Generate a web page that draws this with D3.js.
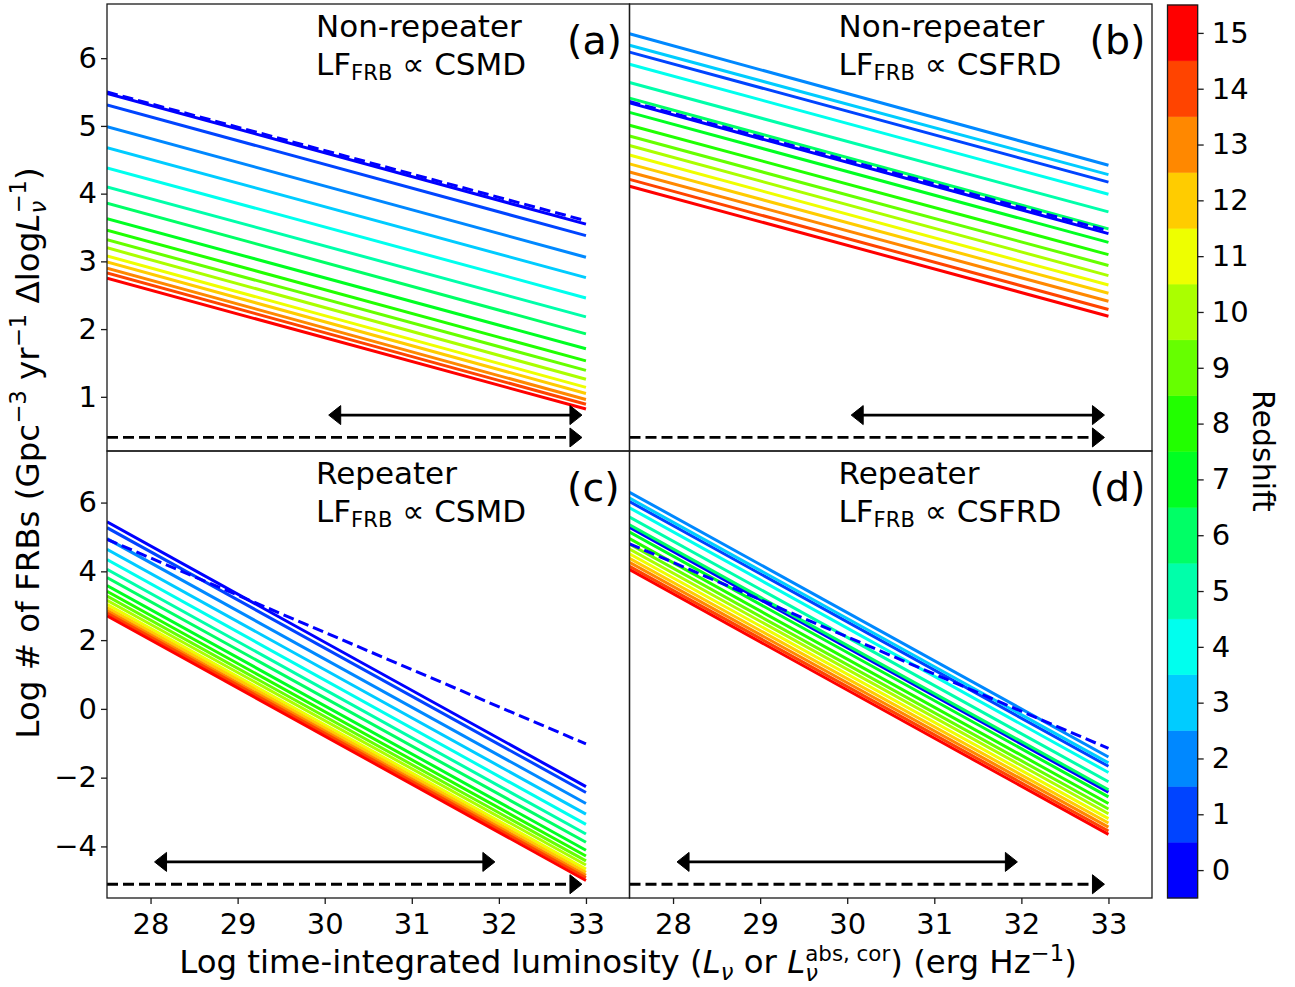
<!DOCTYPE html>
<html><head><meta charset="utf-8">
<script src="https://cdn.jsdelivr.net/npm/d3@7"></script>
<style>
html,body{margin:0;padding:0;background:#fff;}
svg{display:block;font-family:"DejaVu Sans",sans-serif;}
</style>
</head><body>
<svg id="chart" width="1295" height="987"></svg>
<script>
// ---------------- data ----------------
const redshifts = [0,1,2,3,4,5,6,7,8,9,10,11,12,13,14,15];
const lumStart = 27.5;
const lumEnd = 33.0;
const xTicks = [28,29,30,31,32,33];
const yTicksTop = [1,2,3,4,5,6];
const yTicksBottom = [-4,-2,0,2,4,6];

// (a) Non-repeater, LF ∝ CSMD : log N at L=27.5 and L=33 for z=0..15
const nonRepCSMDStart = [5.48,5.31,4.99,4.68,4.38,4.10,3.86,3.63,3.46,3.32,3.20,3.08,2.99,2.90,2.83,2.75];
const nonRepCSMDEnd   = [3.55,3.38,3.06,2.76,2.46,2.18,1.93,1.71,1.53,1.39,1.26,1.14,1.05,0.96,0.89,0.82];
// (b) Non-repeater, LF ∝ CSFRD
const nonRepCSFRDStart = [5.34,6.09,6.36,6.19,5.91,5.64,5.41,5.20,5.01,4.85,4.71,4.57,4.44,4.32,4.21,4.11];
const nonRepCSFRDEnd   = [3.41,4.17,4.42,4.28,3.99,3.73,3.48,3.28,3.10,2.94,2.79,2.65,2.53,2.41,2.29,2.19];
// (c) Repeater, LF ∝ CSMD
const repCSMDStart = [5.44,5.27,4.95,4.64,4.34,4.06,3.82,3.59,3.42,3.28,3.16,3.04,2.95,2.86,2.79,2.71];
const repCSMDEnd   = [-2.26,-2.43,-2.75,-3.06,-3.36,-3.64,-3.88,-4.11,-4.28,-4.42,-4.54,-4.66,-4.75,-4.84,-4.91,-4.99];
// (d) Repeater, LF ∝ CSFRD
const repCSFRDStart = [5.28,6.03,6.30,6.13,5.85,5.58,5.35,5.14,4.95,4.79,4.65,4.51,4.38,4.26,4.15,4.05];
const repCSFRDEnd   = [-2.42,-1.67,-1.40,-1.57,-1.85,-2.12,-2.35,-2.56,-2.75,-2.91,-3.05,-3.19,-3.32,-3.44,-3.55,-3.65];

// blue dashed (observed) lines: [start, end]
const localA = [5.50, 3.60];
const localB = [5.36, 3.45];
const localC = [4.93, -1.02];
const localD = [4.80, -1.15];

// black arrows: solid double arrow range, and its height; dashed arrow height
const arrowTopRange = [30, 33];
const arrowBottomRange = [28, 32];
const dashedArrowRange = [27.5, 33];
const arrowTopY = 0.73, dashArrowTopY = 0.40;
const arrowBottomY = -4.45, dashArrowBottomY = -5.10;

const panelLabels = ["(a)","(b)","(c)","(d)"];
const panelType = ["Non-repeater","Non-repeater","Repeater","Repeater"];
const panelModel = ["CSMD","CSFRD","CSMD","CSFRD"];

// ---------------- layout ----------------
const svg = d3.select("#chart");
const cols = [[107, 629.5],[629.5, 1152]];
const rows = [[4, 451],[451, 898]];
const xDomain = [27.5, 33.5];
const yDomainTop = [0.2, 6.8];
const yDomainBottom = [-5.5, 7.5];

const hueScale = d3.scaleLinear().domain([0,15]).range([240,0]);
const colorOf = z => d3.hsl(hueScale(z), 1, 0.5).formatHex();
const fmt = d => d < 0 ? "\u2212" + Math.abs(d) : String(d);

const panels = [
  {col:0,row:0,start:nonRepCSMDStart,end:nonRepCSMDEnd,local:localA,arrow:arrowTopRange,ay:arrowTopY,day:dashArrowTopY},
  {col:1,row:0,start:nonRepCSFRDStart,end:nonRepCSFRDEnd,local:localB,arrow:arrowTopRange,ay:arrowTopY,day:dashArrowTopY},
  {col:0,row:1,start:repCSMDStart,end:repCSMDEnd,local:localC,arrow:arrowBottomRange,ay:arrowBottomY,day:dashArrowBottomY},
  {col:1,row:1,start:repCSFRDStart,end:repCSFRDEnd,local:localD,arrow:arrowBottomRange,ay:arrowBottomY,day:dashArrowBottomY}
];

// rich text helper
function richText(sel, runs, size) {
  let prevShift = 0, prevNode = null;
  runs.forEach(r => {
    const sc = r.scale || 1;
    const shift = r.shift || 0;
    const ts = sel.append("tspan")
      .attr("font-size", size * sc)
      .attr("dy", -(shift - prevShift))
      .text(r.t);
    if (r.italic) ts.attr("font-style", "italic");
    if (r.stack && prevNode) {
      ts.attr("dx", -prevNode.getComputedTextLength());
    }
    prevShift = shift;
    prevNode = ts.node();
  });
}

const defs = svg.append("defs");

panels.forEach((p, i) => {
  const x = d3.scaleLinear().domain(xDomain).range(cols[p.col]);
  const y = d3.scaleLinear().domain(p.row === 0 ? yDomainTop : yDomainBottom).range([rows[p.row][1], rows[p.row][0]]);
  const clipId = "clip" + i;
  defs.append("clipPath").attr("id", clipId).append("rect")
    .attr("x", cols[p.col][0]).attr("y", rows[p.row][0])
    .attr("width", cols[p.col][1]-cols[p.col][0]).attr("height", rows[p.row][1]-rows[p.row][0]);
  const g = svg.append("g").attr("clip-path", `url(#${clipId})`);
  const line = d3.line().x(d => x(d[0])).y(d => y(d[1]));

  redshifts.forEach(z => {
    g.append("path")
      .attr("d", line([[lumStart, p.start[z]],[lumEnd, p.end[z]]]))
      .attr("fill","none").attr("stroke", colorOf(z)).attr("stroke-width", 3);
  });
  g.append("path")
    .attr("d", line([[lumStart, p.local[0]],[lumEnd, p.local[1]]]))
    .attr("fill","none").attr("stroke","#0000ff").attr("stroke-width",3)
    .attr("stroke-dasharray","11,5");

  // arrows
  const headL = 12, headW = 9.5, shrink = 4;
  function head(tipX, yy, dir) {
    const bx = tipX - dir*headL;
    g.append("path")
      .attr("d", `M${tipX},${yy} L${bx},${yy-headW} L${bx},${yy+headW} Z`)
      .attr("fill","#000").attr("stroke","#000").attr("stroke-width",1).attr("stroke-linejoin","round");
  }
  {
    const yy = y(p.ay);
    const a = x(p.arrow[0]) + shrink, b = x(p.arrow[1]) - shrink;
    g.append("line").attr("x1", a + headL - 1).attr("x2", b - headL + 1)
      .attr("y1", yy).attr("y2", yy).attr("stroke","#000").attr("stroke-width",2.8);
    head(a, yy, -1);
    head(b, yy, 1);
  }
  {
    const yy = y(p.day);
    const a = x(dashedArrowRange[0]), b = x(dashedArrowRange[1]) - shrink;
    g.append("line").attr("x1", a).attr("x2", b - headL + 1)
      .attr("y1", yy).attr("y2", yy).attr("stroke","#000").attr("stroke-width",2.8)
      .attr("stroke-dasharray","11,5");
    head(b, yy, 1);
  }

  // frame
  svg.append("rect")
    .attr("x", cols[p.col][0]).attr("y", rows[p.row][0])
    .attr("width", cols[p.col][1]-cols[p.col][0]).attr("height", rows[p.row][1]-rows[p.row][0])
    .attr("fill","none").attr("stroke","#1a1a1a").attr("stroke-width",1.3);

  // axes
  if (p.col === 0) {
    const ax = svg.append("g").attr("transform", `translate(${cols[0][0]},0)`)
      .call(d3.axisLeft(y).tickValues(p.row === 0 ? yTicksTop : yTicksBottom).tickSize(6).tickPadding(4).tickFormat(fmt));
    ax.select(".domain").remove();
    ax.attr("font-size", 29).attr("font-family", "DejaVu Sans");
    ax.selectAll("line").attr("stroke","#1a1a1a").attr("stroke-width",1.3);
  }
  if (p.row === 1) {
    const ax = svg.append("g").attr("transform", `translate(0,${rows[1][1]})`)
      .call(d3.axisBottom(x).tickValues(xTicks).tickSize(6).tickPadding(9).tickFormat(fmt));
    ax.select(".domain").remove();
    ax.attr("font-size", 29).attr("font-family", "DejaVu Sans");
    ax.selectAll("line").attr("stroke","#1a1a1a").attr("stroke-width",1.3);
  }

  // annotation text
  const tx = cols[p.col][0] + 209, ty = rows[p.row][0];
  svg.append("text").attr("x", tx).attr("y", ty + 33).attr("font-size", 31).text(panelType[i]);
  const t2 = svg.append("text").attr("x", tx).attr("y", ty + 71).attr("font-size", 31);
  richText(t2, [{t:"LF"},{t:"FRB",scale:0.68,shift:-5},{t:" \u221D " + panelModel[i]}], 31);
  svg.append("text").attr("x", cols[p.col][0] + 460).attr("y", ty + 49.5).attr("font-size", 39.5).text(panelLabels[i]);
});

// ---------------- colorbar ----------------
const cbX0 = 1167.5, cbX1 = 1197.7;
const cbScale = d3.scaleLinear().domain([-0.5, 15.5]).range([898, 5]);
const cb = svg.append("g");
redshifts.forEach(z => {
  cb.append("rect").attr("x", cbX0).attr("width", cbX1 - cbX0)
    .attr("y", cbScale(z + 0.5)).attr("height", cbScale(z - 0.5) - cbScale(z + 0.5))
    .attr("fill", colorOf(z)).attr("stroke", colorOf(z)).attr("stroke-width", 0.5);
});
cb.append("rect").attr("x", cbX0).attr("y", 5).attr("width", cbX1 - cbX0).attr("height", 893)
  .attr("fill","none").attr("stroke","#1a1a1a").attr("stroke-width",1.3);
const cbAx = svg.append("g").attr("transform", `translate(${cbX1},0)`)
  .call(d3.axisRight(cbScale).tickValues(redshifts).tickSize(6).tickPadding(8));
cbAx.select(".domain").remove();
cbAx.attr("font-size", 29).attr("font-family", "DejaVu Sans");
cbAx.selectAll("line").attr("stroke","#1a1a1a").attr("stroke-width",1.3);
svg.append("text").attr("transform","translate(1253,451) rotate(90)")
  .attr("text-anchor","middle").attr("font-size",30).text("Redshift");

// ---------------- axis titles ----------------
const xt = svg.append("text").attr("x", 628).attr("y", 973).attr("text-anchor","middle").attr("font-size", 32.4);
richText(xt, [
  {t:"Log time-integrated luminosity ("},
  {t:"L", italic:true},
  {t:"\u03BD", italic:true, scale:0.7, shift:-7},
  {t:" or ", shift:0},
  {t:"L", italic:true},
  {t:"\u03BD", italic:true, scale:0.7, shift:-8},
  {t:"abs, cor", scale:0.66, shift:12, stack:true},
  {t:") (erg Hz", shift:0},
  {t:"\u22121", scale:0.7, shift:12},
  {t:")", shift:0}
], 32.4);

const yt = svg.append("text").attr("transform","translate(39,453) rotate(-90)")
  .attr("text-anchor","middle").attr("font-size", 32.5);
richText(yt, [
  {t:"Log # of FRBs (Gpc"},
  {t:"\u22123", scale:0.7, shift:13},
  {t:" yr", shift:0},
  {t:"\u22121", scale:0.7, shift:13},
  {t:" \u0394log", shift:0},
  {t:"L", italic:true},
  {t:"\u03BD", italic:true, scale:0.7, shift:-7},
  {t:"\u22121", scale:0.7, shift:13, stack:true},
  {t:")", shift:0}
], 32.5);
</script>
</body></html>
